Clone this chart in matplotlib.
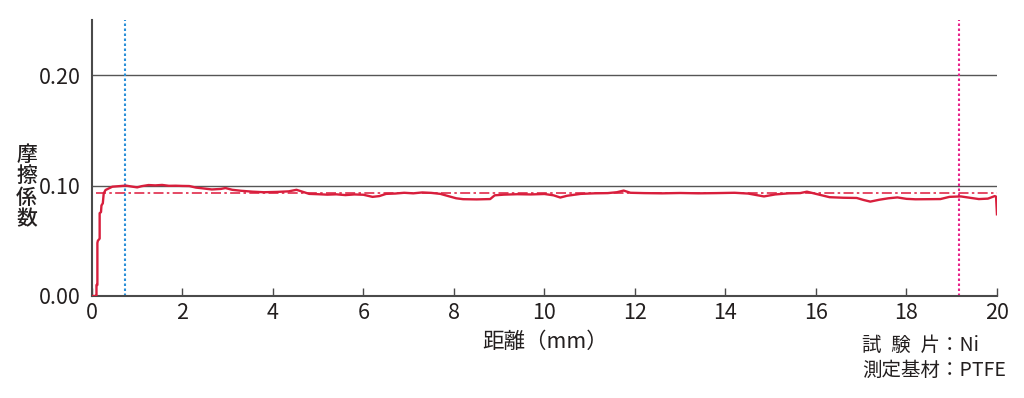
import matplotlib
matplotlib.use('Agg')
import matplotlib.pyplot as plt

plt.rcParams['font.family'] = ['Noto Sans CJK JP', 'DejaVu Sans']

# friction coefficient vs sliding distance (mm)
dist = [0.00, 0.08, 0.10, 0.10, 0.12, 0.12, 0.13, 0.17, 0.17, 0.20, 0.21, 0.24, 0.26, 0.30,
        0.35, 0.45, 0.60, 0.75, 0.90, 1.00, 1.10, 1.25, 1.40, 1.55, 1.70, 1.85, 2.00, 2.15,
        2.30, 2.45, 2.65, 2.85, 2.95, 3.10, 3.30, 3.55, 3.80, 4.10, 4.35, 4.52, 4.65, 4.80,
        5.00, 5.20, 5.40, 5.60, 5.80, 6.00, 6.20, 6.35, 6.50, 6.70, 6.90, 7.10, 7.30, 7.50,
        7.70, 7.90, 8.05, 8.20, 8.50, 8.80, 8.90, 9.10, 9.40, 9.70, 10.00, 10.20, 10.35,
        10.50, 10.80, 11.10, 11.40, 11.60, 11.75, 11.90, 12.20, 12.60, 13.00, 13.40, 13.80,
        14.20, 14.50, 14.85, 15.10, 15.40, 15.65, 15.80, 16.00, 16.30, 16.60, 16.90, 17.05,
        17.20, 17.40, 17.60, 17.80, 18.00, 18.20, 18.50, 18.75, 18.95, 19.20, 19.40, 19.60,
        19.80, 19.95, 19.98, 20.00]
mu = [0.000, 0.000, 0.000, 0.010, 0.010, 0.048, 0.050, 0.052, 0.075, 0.076, 0.082, 0.084,
      0.093, 0.096, 0.097, 0.099, 0.0995, 0.1000, 0.0990, 0.0984, 0.0995, 0.1005, 0.1002,
      0.1006, 0.0998, 0.0999, 0.0997, 0.0996, 0.0982, 0.0975, 0.0965, 0.0970, 0.0978,
      0.0962, 0.0953, 0.0945, 0.0940, 0.0943, 0.0948, 0.0962, 0.0945, 0.0925, 0.0922,
      0.0918, 0.0921, 0.0914, 0.0920, 0.0917, 0.0898, 0.0905, 0.0925, 0.0928, 0.0935,
      0.0930, 0.0938, 0.0934, 0.0925, 0.0902, 0.0885, 0.0877, 0.0875, 0.0878, 0.0912,
      0.0918, 0.0922, 0.0920, 0.0924, 0.0912, 0.0892, 0.0908, 0.0925, 0.0930, 0.0932,
      0.0940, 0.0955, 0.0935, 0.0932, 0.0930, 0.0933, 0.0930, 0.0932, 0.0935, 0.0928,
      0.0902, 0.0920, 0.0930, 0.0932, 0.0945, 0.0925, 0.0895, 0.0890, 0.0888, 0.0870,
      0.0855, 0.0872, 0.0885, 0.0893, 0.0880, 0.0876, 0.0877, 0.0878, 0.0898, 0.0902,
      0.0890, 0.0878, 0.0882, 0.0905, 0.0900, 0.0740]

mean_mu = 0.0932
start_x = 0.73
end_x = 19.17

xticks = [0, 2, 4, 6, 8, 10, 12, 14, 16, 18, 20]
yticks = [0.00, 0.10, 0.20]
ytick_labels = ['0.00', '0.10', '0.20']

txt = '#231f1f'
axc = '#4a4a4a'

fig = plt.figure(figsize=(10.24, 3.98), dpi=100)
ax = fig.add_axes([0.0898, 0.2563, 0.8838, 0.6934])

for yv in [0.10, 0.20]:
    ax.axhline(yv, color='#555555', lw=1.0, zorder=1)

ax.axhline(mean_mu, xmin=0.004, color='#e02a4a', lw=1.2, ls=(0, (6, 2, 1.5, 2)), zorder=2)
ax.axvline(start_x, color='#2a8fd8', lw=1.5, ls=(0, (1.2, 1.2)), zorder=2)
ax.axvline(end_x, color='#e8208a', lw=1.5, ls=(0, (1.2, 1.2)), zorder=2)

ax.plot(dist, mu, color='#d81e3c', lw=1.7, zorder=3)

ax.set_xlim(0, 20)
ax.set_ylim(0, 0.25)
ax.set_xticks(xticks)
ax.set_xticklabels([str(v) for v in xticks])
ax.set_yticks(yticks)
ax.set_yticklabels(ytick_labels)

for s in ['top', 'right']:
    ax.spines[s].set_visible(False)
for s in ['left', 'bottom']:
    ax.spines[s].set_color(axc)
    ax.spines[s].set_linewidth(1.5)

ax.tick_params(axis='x', direction='in', length=6, width=1.0, color=axc,
               labelsize=15.5, labelcolor=txt, pad=4)
ax.tick_params(axis='y', length=0, labelsize=15.5, labelcolor=txt, pad=8)

fig.text(0.026, 0.53, '摩\n擦\n係\n数', ha='center', va='center', fontsize=15,
         color=txt, linespacing=0.95, fontweight='medium')
fig.text(0.532, 0.141, '距離（mm）', ha='center', va='center', fontsize=15.5, color=txt)

fig.text(0.842, 0.133, '試\u2002験\u2002片：Ni', ha='left', va='center', fontsize=14,
         color=txt)
fig.text(0.842, 0.070, '測定基材：PTFE', ha='left', va='center', fontsize=14, color=txt)

fig.savefig('out.png', dpi=100)
